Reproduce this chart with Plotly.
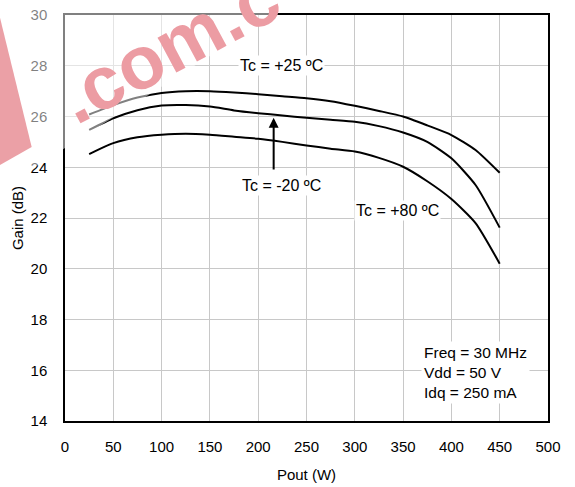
import plotly.graph_objects as go

pout = [25, 50, 75, 100, 125, 150, 175, 200, 225, 250, 275, 300, 325, 350, 375, 400, 425, 450]
gain_p25 = [26.08, 26.45, 26.75, 26.93, 27.0, 27.0, 26.95, 26.88, 26.8, 26.72, 26.6, 26.42, 26.22, 26.0, 25.65, 25.27, 24.68, 23.78]
gain_m20 = [25.47, 25.93, 26.25, 26.43, 26.45, 26.39, 26.24, 26.13, 26.04, 25.95, 25.87, 25.79, 25.62, 25.37, 25.0, 24.35, 23.3, 21.62]
gain_p80 = [24.52, 24.95, 25.18, 25.28, 25.32, 25.28, 25.2, 25.12, 25.0, 24.86, 24.73, 24.62, 24.37, 24.02, 23.45, 22.75, 21.8, 20.2]

x_ticks = [0, 50, 100, 150, 200, 250, 300, 350, 400, 450, 500]
y_ticks = [14, 16, 18, 20, 22, 24, 26, 28, 30]

FONT = "Liberation Sans, Arial, sans-serif"

fig = go.Figure()

for ys in (gain_p25, gain_m20, gain_p80):
    fig.add_trace(go.Scatter(x=pout, y=ys, mode="lines",
                             line=dict(color="black", width=2, shape="spline", smoothing=0.6),
                             showlegend=False, hoverinfo="skip"))

# watermark approximation: light band over the top-left corner, pink strip, pink text
fig.add_shape(type="path", xref="paper", yref="paper",
              path="M -0.145 1.049 L 0.499 1.049 L -0.145 0.563 Z",
              fillcolor="rgba(255,255,255,0.5)", line=dict(width=0), layer="above")
fig.add_shape(type="path", xref="paper", yref="paper",
              path="M -0.135 0.995 L -0.069 0.675 L -0.135 0.63 Z",
              fillcolor="#eba0a6", line=dict(width=0), layer="above")
fig.add_annotation(xref="paper", yref="paper", x=0.215, y=0.921, xanchor="center", yanchor="middle",
                   text="<b>.com.c</b>", showarrow=False,
                   textangle=-28, font=dict(family=FONT, size=75, color="#ec9ca3"))

ann_font = dict(family=FONT, size=16, color="black")
fig.add_annotation(x=224, y=28.0, text="Tc = +25 ºC", showarrow=False, font=ann_font,
                   bgcolor="white", borderpad=1)
fig.add_annotation(x=224, y=23.27, text="Tc = -20 ºC", showarrow=False, font=ann_font,
                   bgcolor="white", borderpad=1)
fig.add_annotation(x=344, y=22.28, text="Tc = +80 ºC", showarrow=False, font=ann_font,
                   bgcolor="white", borderpad=1)
# arrow pointing to the -20 curve
fig.add_annotation(x=216, y=25.95, ax=216, ay=23.85, xref="x", yref="y", axref="x", ayref="y",
                   text="", showarrow=True, arrowhead=2, arrowsize=1, arrowwidth=2, arrowcolor="black")
fig.add_annotation(x=369, y=15.92, xanchor="left", yanchor="middle", align="left",
                   text="Freq = 30 MHz<br>Vdd = 50 V<br>Idq = 250 mA",
                   showarrow=False, font=dict(family=FONT, size=15.5, color="black"),
                   bgcolor="white", borderpad=2)

fig.update_xaxes(range=[0, 500], tickvals=x_ticks, showgrid=True, gridcolor="#c8c8c8", gridwidth=1,
                 showline=True, linecolor="black", linewidth=1.5, mirror=True, zeroline=False,
                 ticks="outside", ticklen=11, tickcolor="rgba(0,0,0,0)",
                 tickfont=dict(family=FONT, size=15, color="black"),
                 title=dict(text="Pout (W)", font=dict(family=FONT, size=15, color="black"), standoff=16))
fig.update_yaxes(range=[14, 30], tickvals=y_ticks, showgrid=True, gridcolor="#c8c8c8", gridwidth=1,
                 showline=True, linecolor="black", linewidth=1.5, mirror=True, zeroline=False,
                 ticks="outside", ticklen=13, tickcolor="rgba(0,0,0,0)",
                 tickfont=dict(family=FONT, size=15, color="black"),
                 title=dict(text="Gain (dB)", font=dict(family=FONT, size=15, color="black"), standoff=3))

fig.update_layout(width=575, height=487, margin=dict(l=65, r=27, t=15, b=66, autoexpand=False),
                  plot_bgcolor="white", paper_bgcolor="white")
fig.write_html("out.html", config={"displayModeBar": False},
               post_script="document.body.style.margin='0';")
